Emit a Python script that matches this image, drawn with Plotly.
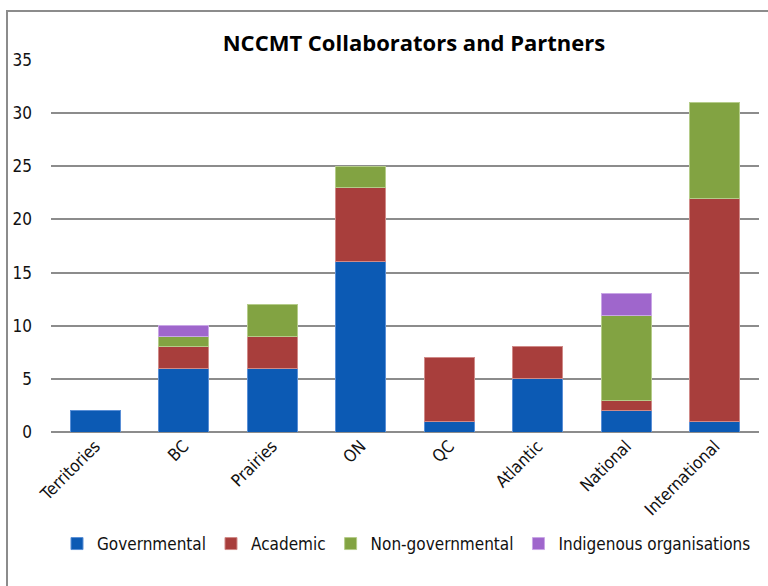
import plotly.graph_objects as go

categories = ["Territories", "BC", "Prairies", "ON", "QC", "Atlantic", "National", "International"]
governmental = [2, 6, 6, 16, 1, 5, 2, 1]
academic = [0, 2, 3, 7, 6, 3, 1, 21]
non_governmental = [0, 1, 3, 2, 0, 0, 8, 9]
indigenous = [0, 1, 0, 0, 0, 0, 2, 0]
y_ticks = [0, 5, 10, 15, 20, 25, 30, 35]

series = [
    ("Governmental", governmental, "#0c5ab4", "#5a8fd6"),
    ("Academic", academic, "#a83e3c", "#d08a88"),
    ("Non-governmental", non_governmental, "#82a342", "#b5cc8a"),
    ("Indigenous organisations", indigenous, "#9f66cc", "#c9a6e6"),
]

fig = go.Figure()
for name, vals, col, edge in series:
    fig.add_trace(go.Bar(
        x=categories, y=[v if v else None for v in vals], name=name,
        marker=dict(color=col, line=dict(color=edge, width=1)),
    ))

W, H = 768, 586
L, R, T, B = 51, 9, 60, 154
pw, ph = W - L - R, H - T - B
FONT = "DejaVu Sans Condensed, Liberation Sans Narrow, Arial Narrow, sans-serif"

fig.update_layout(
    width=W, height=H,
    barmode="stack", bargap=0.43,
    margin=dict(l=L, r=R, t=T, b=B, pad=0),
    paper_bgcolor="white", plot_bgcolor="white",
    font=dict(family=FONT, size=17, color="#111"),
    title=dict(text="<b>NCCMT Collaborators and Partners</b>",
               font=dict(family="Open Sans, Noto Sans", size=22, color="#000"),
               x=414 / W, xanchor="center", y=1 - 43 / H, yanchor="middle"),
    showlegend=True,
    legend=dict(orientation="h", x=(57 - L) / pw, xanchor="left",
                y=-(544 - (T + ph)) / ph, yanchor="middle",
                font=dict(family=FONT, size=17), itemwidth=30, traceorder="normal",
                bgcolor="rgba(0,0,0,0)"),
    xaxis=dict(tickangle=-45, showline=False, showgrid=False, ticks="",
               tickfont=dict(family=FONT, size=17)),
    yaxis=dict(range=[0, 35], tickvals=y_ticks, showgrid=True, gridcolor="#8c8c8c",
               gridwidth=2, zeroline=True, zerolinecolor="#8c8c8c", zerolinewidth=2,
               showline=False, ticks="", tickfont=dict(family=FONT, size=17),
               ticklabelstandoff=18),
    shapes=[dict(type="rect", xref="paper", yref="paper",
                 x0=(7 - L) / pw, x1=(W + 20 - L) / pw,
                 y0=-(H + 20 - (T + ph)) / ph, y1=(T + ph - 11) / ph,
                 line=dict(color="#8c8c8c", width=2), layer="below")],
)

fig.write_html("out.html")
